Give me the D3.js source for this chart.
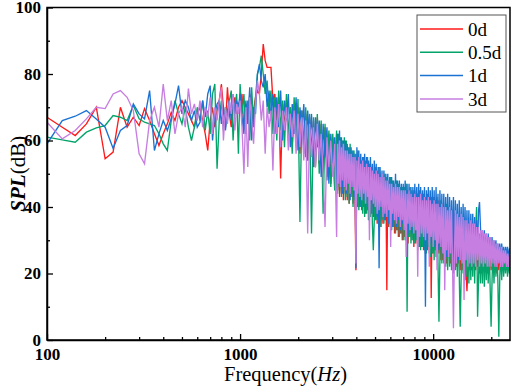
<!DOCTYPE html>
<html>
<head>
<meta charset="utf-8">
<script src="https://cdn.jsdelivr.net/npm/d3@7/dist/d3.min.js"></script>
<style>
  html, body { margin: 0; padding: 0; background: #fff; }
  svg { display: block; }
  svg text { font-family: "Liberation Serif", "Times New Roman", Times, serif; }
</style>
</head>
<body>
<svg id="chart" width="512" height="388"></svg>
<script>
// frequency bins (Hz), shared by all four spectra
const freqHz = [
  100, 120, 140, 160, 180, 200, 220, 240, 260, 280, 300, 320, 340, 360, 380,
  400, 420, 440, 460, 480, 500, 520, 540, 560, 580, 600, 620, 640, 660, 680,
  700, 720, 740, 760, 780, 800, 820, 840, 860, 880, 900, 920, 940, 960, 980,
  1000, 1023, 1047, 1072, 1096, 1122, 1148, 1175, 1202, 1230,
  1259, 1288, 1318, 1349, 1380, 1413, 1445, 1479, 1514, 1549,
  1585, 1622, 1660, 1698, 1738, 1778, 1820, 1862, 1905, 1950,
  1995, 2042, 2089, 2138, 2188, 2239, 2291, 2344, 2399, 2455,
  2512, 2570, 2630, 2692, 2754, 2818, 2884, 2951, 3020, 3090,
  3162, 3199, 3236, 3273, 3311, 3350, 3388, 3428, 3467, 3508,
  3548, 3589, 3631, 3673, 3715, 3758, 3802, 3846, 3890, 3936,
  3981, 4027, 4074, 4121, 4169, 4217, 4266, 4315, 4365, 4416,
  4467, 4519, 4571, 4624, 4677, 4732, 4786, 4842, 4898, 4955,
  5012, 5070, 5129, 5188, 5248, 5309, 5370, 5433, 5495, 5559,
  5623, 5689, 5754, 5821, 5888, 5957, 6026, 6095, 6166, 6237,
  6310, 6383, 6457, 6531, 6607, 6683, 6761, 6839, 6918, 6998,
  7079, 7161, 7244, 7328, 7413, 7499, 7586, 7674, 7762, 7852,
  7943, 8035, 8128, 8222, 8318, 8414, 8511, 8610, 8710, 8810,
  8913, 9016, 9120, 9226, 9333, 9441, 9550, 9661, 9772, 9886,
  10000, 10116, 10233, 10351, 10471, 10593, 10715, 10839, 10965, 11092,
  11220, 11350, 11482, 11614, 11749, 11885, 12023, 12162, 12303, 12445,
  12589, 12735, 12882, 13032, 13183, 13335, 13490, 13646, 13804, 13964,
  14125, 14289, 14454, 14622, 14791, 14962, 15136, 15311, 15488, 15668,
  15849, 16032, 16218, 16406, 16596, 16788, 16982, 17179, 17378, 17579,
  17783, 17989, 18197, 18408, 18621, 18836, 19055, 19275, 19498, 19724,
  19953, 20184, 20417, 20654, 20893, 21135, 21380, 21627, 21878, 22131,
  22387, 22646, 22909, 23174, 23442, 23714, 23988, 24266, 24547, 24831,
  25000
];

// SPL (dB) for each case
const spl0d = [
  67, 64, 61.5, 65, 70, 54.5, 56.5, 70, 64, 67, 64.5, 69.6, 66, 62, 58.5,
  62, 65, 68.5, 66, 70, 72, 70, 68, 66, 64, 68, 70, 66, 62, 57,
  66, 70, 64, 69, 72, 77, 70, 64, 76, 68, 64, 70, 73, 68, 71,
  70, 74, 63, 71, 66, 74, 62, 69, 73, 75,
  74, 80, 89, 84, 82, 82, 82, 72, 74, 66,
  73, 48.6, 71, 64, 72, 60, 70, 58, 71, 61,
  70, 56, 69, 59, 68, 54, 67, 57, 66, 52,
  67, 53, 65, 50, 64, 49, 62, 47, 61, 46,
  62, 45, 61, 43, 60, 44, 59, 42, 59, 44,
  57, 42, 57, 41, 56, 43, 56, 41, 55, 42,
  21, 55, 40, 54, 41, 54, 39, 53, 40, 53,
  38, 53, 39, 52, 37, 52, 38, 51, 37, 51,
  36, 50, 35, 50, 36, 49, 34, 49, 35, 48,
  36, 48, 15, 47, 34, 47, 33, 48, 34, 47,
  32, 47, 33, 46, 31, 46, 32, 45, 30, 45,
  31, 46, 30, 45, 29, 45, 31, 44, 30, 44,
  28, 45, 29, 44, 27, 44, 28, 43, 28, 43,
  27, 44, 26, 43, 27, 42, 26, 42, 12.6, 43,
  26, 43, 27, 42, 25, 42, 26, 41, 24, 41,
  24, 40, 25, 40, 23, 39, 25, 39, 23, 39,
  22, 39, 23, 38, 22, 38, 23, 37, 21, 36,
  21, 35, 22, 35, 21, 14.7, 22, 34, 21, 34,
  21, 33, 22, 32, 21, 32, 22, 31, 20, 31,
  20, 30, 21, 30, 21, 29, 20, 29, 20, 28,
  21, 28, 20, 27, 21, 27, 20, 27, 21, 26,
  22, 26, 21, 25, 22, 25, 21, 25, 21, 24,
  24
];

const spl05d = [
  61, 60.2, 59.5, 62.5, 63.8, 64.5, 67.5, 67, 66, 70.5, 66.5, 65.5, 65, 64.5, 62,
  59, 57, 66, 72, 68, 65, 70, 64, 60, 64, 70, 66, 72, 63, 69,
  62, 74, 77, 51.5, 66, 72, 63, 70, 66, 72, 75, 60, 70, 74, 56,
  77, 68, 74, 62, 72, 60, 76, 64, 73, 80,
  82, 85.5, 80, 74, 78, 68, 75, 62, 73, 60,
  75, 63, 72, 58, 74, 61, 70, 56, 73, 60,
  72.5, 35.5, 69, 56, 70, 54, 68, 32, 67, 52,
  68, 50, 66, 38, 65, 48, 63, 46, 62, 45,
  63, 44, 62, 46, 61, 43, 60, 45, 61, 42,
  60, 43, 58, 41, 59, 44, 57, 40, 57, 42,
  56, 41, 57, 39, 55, 40, 54, 38, 55, 37,
  54, 38, 55, 36, 53, 37, 52, 35, 27, 36,
  52, 36, 51, 35, 52, 34, 50, 36, 49, 35,
  50, 37, 49, 34, 48, 35, 49, 33, 48, 34,
  47, 32, 48, 33, 47, 31, 46, 32, 46, 30,
  46, 30, 47, 8.5, 45, 31, 46, 29, 45, 30,
  45, 29, 44, 30, 44, 28, 45, 27, 44, 28,
  44, 27, 43, 26, 44, 28, 43, 25, 43, 26,
  43, 24, 42, 25, 43, 23, 5.5, 24, 42, 23,
  41, 23, 40, 22, 41, 21, 40, 22, 39, 21,
  39, 20, 38, 21, 38, 19, 37, 20, 4, 19,
  36, 20, 36, 18, 35, 19, 35, 17, 34, 18,
  34, 19, 33, 17, 33, 40, 7, 18, 32, 17,
  30, 17, 31, 16, 29, 18, 30, 17, 29, 16,
  4, 18, 28, 17, 27, 19, 28, 18, 1, 19,
  26, 18, 27, 19, 25, 20, 26, 19, 24, 20,
  23
];

const spl1d = [
  59, 66, 67.3, 69, 66.5, 64, 57.6, 63, 64.5, 71, 68, 66.5, 75, 57, 62,
  66, 63, 66.6, 71, 76.5, 68, 72, 70, 66, 69, 64, 65.5, 72, 67, 74,
  76.5, 60, 68, 71, 72, 65, 70, 63, 69, 72, 66, 74, 68, 72, 70,
  74, 67, 62, 72, 65, 76, 60, 70, 68, 80,
  83, 78, 76, 80, 70, 75, 66, 74, 62, 73,
  64, 75, 60, 72, 66, 74, 58, 71, 62, 73,
  57, 70, 63, 71, 55, 69, 60, 68, 52, 67,
  58, 66, 49, 65, 55, 64, 47, 62, 53, 61,
  45, 62, 50, 63, 47, 61, 44, 60, 48, 60,
  44, 59, 48, 58, 42, 58, 46, 57, 43, 56,
  21.6, 58, 45, 57, 40, 56, 44, 55, 42, 56,
  40, 55, 43, 54, 39, 55, 41, 53, 38, 54,
  42, 53, 37, 52, 21.6, 52, 40, 51, 38, 51,
  36, 50, 39, 50, 35, 49, 38, 49, 34, 48,
  37, 50, 34, 48, 36, 48, 33, 47, 35, 47,
  33, 48, 36, 47, 32, 47, 34, 46, 32, 46,
  35, 47, 31, 46, 34, 47, 30, 46, 33, 45,
  31, 46, 10, 45, 30, 46, 32, 45, 29, 46,
  31, 45, 28, 46, 30, 44, 27, 45, 29, 44,
  26, 44, 29, 43, 25, 44, 28, 43, 26, 42,
  27, 43, 25, 42, 28, 41, 24, 42, 26, 40,
  25, 41, 27, 40, 24, 39, 26, 39, 23, 38,
  26, 38, 24, 37, 25, 36, 27, 39, 41.5, 34,
  26, 33, 24, 33, 25, 32, 24, 32, 26, 31,
  25, 31, 24, 30, 26, 30, 24, 29, 25, 29,
  24, 29, 25, 28, 24, 28, 25, 28, 24, 27.5,
  27
];

const spl3d = [
  65.5, 60.5, 63, 66.5, 70, 69.6, 74, 75, 73, 69, 56, 53, 66, 70, 64,
  77, 66, 72, 62, 68, 70, 64, 75.6, 68, 71, 66, 72, 64, 70, 67,
  73, 62, 70, 66, 72, 76, 60, 70, 65, 72, 68, 74, 63, 71, 68,
  72, 64, 50, 70, 52, 73, 66, 59, 71, 78,
  74, 66, 72, 56, 70, 64, 69, 51, 70, 62,
  71, 58, 69, 63, 70, 57, 68, 61, 69, 56,
  68, 58, 67, 54, 66, 32, 65, 55, 64, 52,
  65, 54, 62, 50, 34, 61, 52, 60, 49, 59,
  31, 59, 47, 60, 46, 58, 48, 59, 46, 57,
  45, 57, 47, 56, 44, 56, 46, 55, 45, 55,
  23, 54, 44, 55, 43, 53, 42, 54, 44, 52,
  41, 53, 43, 52, 30, 52, 42, 51, 41, 50,
  40, 51, 38, 50, 39, 49, 40, 50, 37, 49,
  38, 48, 37, 48, 39, 47, 28, 47, 38, 46,
  36, 47, 35, 46, 37, 46, 34, 45, 36, 45,
  33, 45, 25, 44, 35, 45, 33, 44, 34, 43,
  32, 44, 33, 43, 19, 43, 31, 44, 32, 42,
  31, 43, 30, 42, 32, 43, 22, 42, 31, 41,
  28, 42, 30, 41, 21, 41, 29, 40, 28, 41,
  26, 40, 15, 40, 27, 39, 25, 40, 26, 39,
  24, 3.5, 25, 39, 23, 38, 25, 37, 24, 38,
  23, 37, 12, 36, 24, 36, 22, 35, 23, 36,
  22, 35, 23, 35, 22, 34, 24, 34, 22, 33,
  23, 33, 22, 32, 23, 32, 22, 31, 22, 31,
  22, 30, 23, 30, 22, 29, 22, 29, 23, 28,
  22, 28, 22, 27, 23, 27, 22, 26, 22, 26,
  24
];

const seriesNames = ['0d', '0.5d', '1d', '3d'];
const seriesColors = ['#ff1a1a', '#03a46a', '#1a73d3', '#c67ee0'];
const xTickValues = [100, 1000, 10000];
const xMinorTicks = [200, 300, 400, 500, 600, 700, 800, 900,
  2000, 3000, 4000, 5000, 6000, 7000, 8000, 9000, 20000];
const yTickValues = [0, 20, 40, 60, 80, 100];
const yMinorTicks = [10, 30, 50, 70, 90];

const plot = {left: 47, right: 510, top: 7.5, bottom: 340};
const serif = '"Liberation Serif", "Times New Roman", Times, serif';

const svg = d3.select('#chart');

const x = d3.scaleLog().domain([100, 25000]).range([plot.left, plot.right]);
const y = d3.scaleLinear().domain([0, 100]).range([plot.bottom, plot.top]);

svg.append('clipPath').attr('id', 'plot-clip')
  .append('rect')
  .attr('x', plot.left).attr('y', plot.top)
  .attr('width', plot.right - plot.left)
  .attr('height', plot.bottom - plot.top);

// spectra, drawn so that 3d ends up on top
const series = [spl0d, spl05d, spl1d, spl3d];
const line = d3.line()
  .x((d, i) => x(freqHz[i]))
  .y(d => y(d));

svg.append('g')
  .attr('clip-path', 'url(#plot-clip)')
  .selectAll('path')
  .data(series)
  .enter()
  .append('path')
  .attr('d', d => line(d))
  .attr('fill', 'none')
  .attr('stroke', (d, i) => seriesColors[i])
  .attr('stroke-width', 1.35);

// axes
const xAxis = svg.append('g')
  .attr('transform', `translate(0,${plot.bottom})`)
  .call(d3.axisBottom(x)
    .tickValues(xTickValues)
    .tickSizeInner(-6)
    .tickSizeOuter(0)
    .tickPadding(8)
    .tickFormat(d3.format('d')));

svg.append('g')
  .attr('transform', `translate(0,${plot.bottom})`)
  .call(d3.axisBottom(x)
    .tickValues(xMinorTicks)
    .tickSizeInner(-3)
    .tickSizeOuter(0)
    .tickFormat(''))
  .call(g => g.select('.domain').remove());

const yAxis = svg.append('g')
  .attr('transform', `translate(${plot.left},0)`)
  .call(d3.axisLeft(y)
    .tickValues(yTickValues)
    .tickSizeInner(-6)
    .tickSizeOuter(0)
    .tickPadding(6));

svg.append('g')
  .attr('transform', `translate(${plot.left},0)`)
  .call(d3.axisLeft(y)
    .tickValues(yMinorTicks)
    .tickSizeInner(-3)
    .tickSizeOuter(0)
    .tickFormat(''))
  .call(g => g.select('.domain').remove());

svg.selectAll('.tick line').attr('stroke', '#000').attr('stroke-width', 1.3);
svg.selectAll('.domain').attr('stroke', '#000').attr('stroke-width', 1.5);
[xAxis, yAxis].forEach(g => {
  g.attr('font-family', serif);
  g.selectAll('text')
    .style('font-family', serif)
    .attr('font-size', 17)
    .attr('font-weight', 'bold')
    .attr('fill', '#000');
});

// frame
svg.append('rect')
  .attr('x', plot.left).attr('y', plot.top)
  .attr('width', plot.right - plot.left)
  .attr('height', plot.bottom - plot.top)
  .attr('fill', 'none')
  .attr('stroke', '#000')
  .attr('stroke-width', 1.5);

// axis titles
const xTitle = svg.append('text')
  .attr('x', (plot.left + plot.right) / 2 + 7)
  .attr('y', 381)
  .attr('text-anchor', 'middle')
  .style('font-family', serif)
  .attr('font-size', 20.5);
xTitle.append('tspan').text('Frequency(');
xTitle.append('tspan').attr('font-style', 'italic').text('Hz');
xTitle.append('tspan').text(')');

const yTitle = svg.append('text')
  .attr('transform', `translate(25,${(plot.top + plot.bottom) / 2}) rotate(-90)`)
  .attr('text-anchor', 'middle')
  .style('font-family', serif)
  .attr('font-size', 21);
yTitle.append('tspan').attr('font-style', 'italic').attr('font-weight', 'bold').text('SPL');
yTitle.append('tspan').text('(dB)');

// legend
const legend = svg.append('g').attr('transform', 'translate(417,15)');
legend.append('rect')
  .attr('width', 89).attr('height', 97)
  .attr('fill', '#fff')
  .attr('stroke', '#555')
  .attr('stroke-width', 1);

const rows = legend.selectAll('g.row')
  .data(seriesNames)
  .enter()
  .append('g')
  .attr('class', 'row')
  .attr('transform', (d, i) => `translate(0,${14 + i * 23.3})`);

rows.append('line')
  .attr('x1', 3).attr('x2', 46)
  .attr('stroke', (d, i) => seriesColors[i])
  .attr('stroke-width', 1.5);

rows.append('text')
  .attr('x', 51)
  .attr('dy', '0.35em')
  .style('font-family', serif)
  .attr('font-size', 19)
  .text(d => d);
</script>
</body>
</html>
